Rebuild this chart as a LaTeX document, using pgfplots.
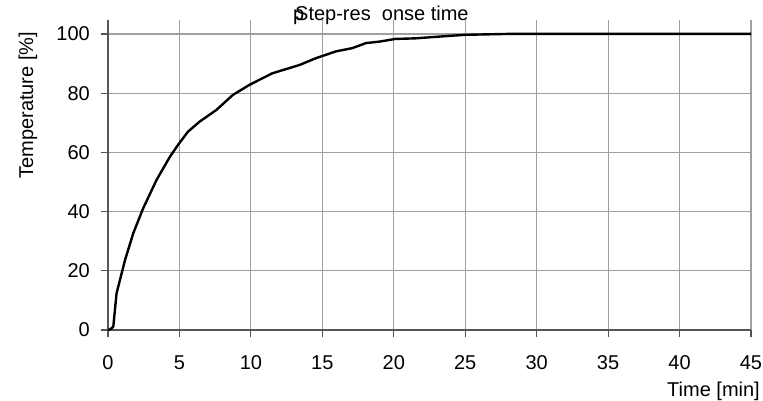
\documentclass[border=0pt]{standalone}
\usepackage{pgfplots}
\pgfplotsset{compat=1.18}
\usepackage{fontspec}
\setmainfont{Liberation Sans}
\definecolor{gridgray}{RGB}{160,160,160}
\definecolor{axisgray}{RGB}{85,85,85}
\begin{document}
\begin{tikzpicture}
\begin{axis}[
  name=ax,
  scale only axis,
  width=643pt, height=310pt,
  xmin=0, xmax=45, ymin=0, ymax=104.7,
  xtick={0,5,...,45}, ytick={0,20,...,100},
  axis x line*=bottom, axis y line*=left,
  axis line style={-, axisgray, line width=1.2pt},
  tick style={axisgray, line width=1.2pt},
  tick align=outside, major tick length=7pt,
  grid=major,
  major grid style={gridgray, line width=1.2pt},
  /pgf/number format/assume math mode=true,
  ticklabel style={font=\fontsize{20}{22}\selectfont, inner sep=0pt},
  xticklabel style={anchor=base, yshift=-32pt},
  yticklabel style={anchor=east, xshift=-11pt},
  xlabel={Time [min]},
  ylabel={Temperature [\%]},
  label style={font=\fontsize{20}{22}\selectfont, inner sep=0pt},
  xlabel style={at={(axis description cs:1.014,-0.2129)}, anchor=base east},
  ylabel style={at={(axis description cs:-0.1166,0.725)}, anchor=base},
  title={\rlap{\kern-2pt p}Step-res\hphantom{p}onse time},
  title style={at={(axis description cs:0.2908,0.9806)}, anchor=base west,
    yshift=0pt, inner sep=0pt, font=\fontsize{20}{22}\selectfont},
  clip=false,
]
\addplot[black, line width=2.4pt, line join=round] coordinates {
  (0,0) (0.15,0.2) (0.37,1.1) (0.6,12.4) (1.19,23.6) (1.77,32.7)
  (2.46,41.1) (3.4,50.7) (4.33,58.5) (4.9,62.5) (5.6,67) (6.42,70.4)
  (7.58,74.3) (8.74,79.4) (9.9,82.8) (11.5,86.7) (13.4,89.5)
  (14.55,91.8) (15.95,94.1) (17.1,95.2) (18.05,96.9) (19,97.4)
  (20.1,98.3) (21.5,98.5) (23.2,99.1) (25,99.7) (28,100) (45,100)
};
\end{axis}
\useasboundingbox (ax.south west) ++(-108pt,-70pt) rectangle ++(763pt,400pt);
\end{tikzpicture}
\end{document}
